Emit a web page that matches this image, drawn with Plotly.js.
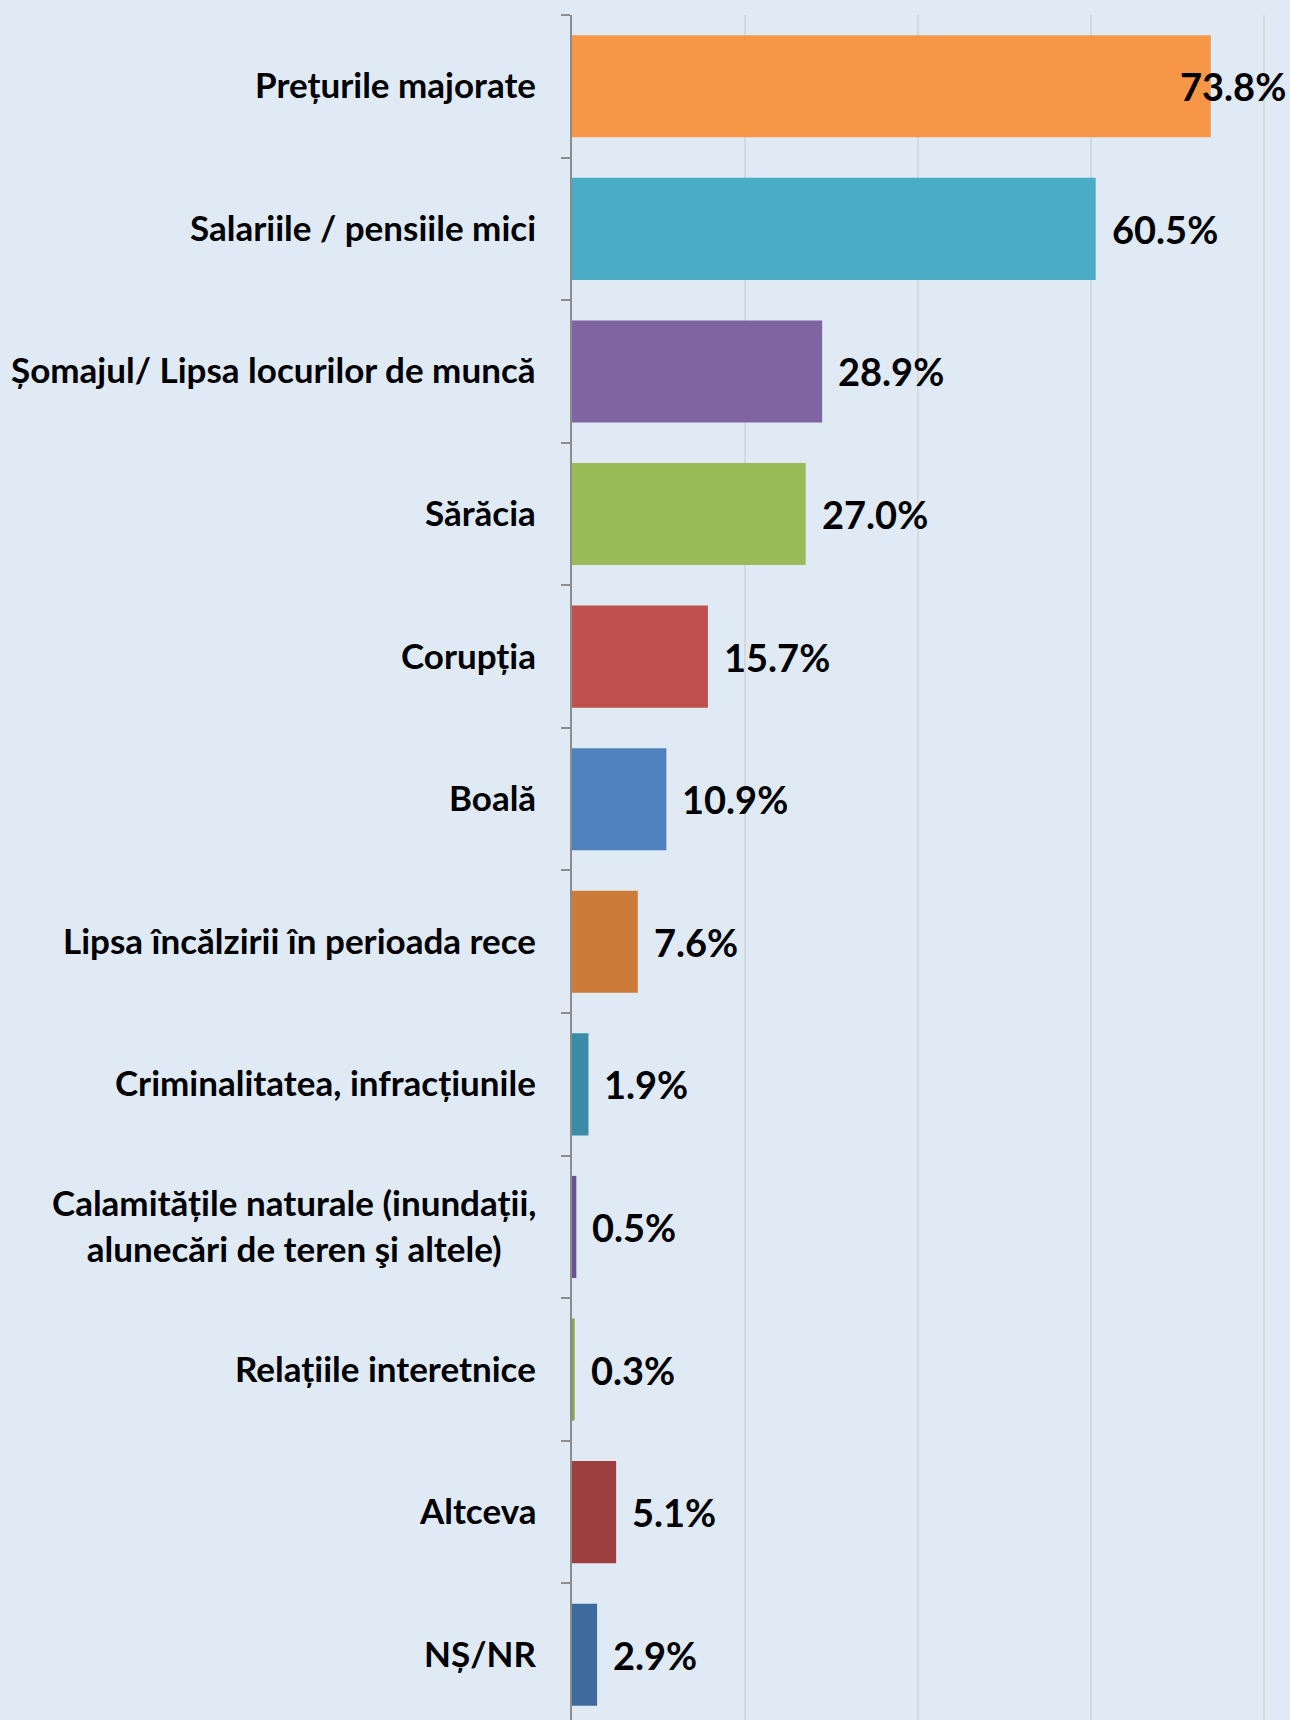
<!DOCTYPE html>
<html>
<head>
<meta charset="utf-8">
<script src="https://cdn.plot.ly/plotly-3.0.1.min.js"></script>
<style>
  html, body { margin: 0; padding: 0; background: #DFEAF5; }
  #chart { width: 1290px; height: 1720px; }
</style>
</head>
<body>
<div id="chart"></div>
<script>
const categories = [
  "Prețurile majorate",
  "Salariile / pensiile mici",
  "Șomajul/ Lipsa locurilor de muncă",
  "Sărăcia",
  "Corupția",
  "Boală",
  "Lipsa încălzirii în perioada rece",
  "Criminalitatea, infracțiunile",
  "Calamitățile naturale (inundații,<br>alunecări de teren şi altele)",
  "Relațiile interetnice",
  "Altceva",
  "NȘ/NR"
];
const values = [73.8, 60.5, 28.9, 27.0, 15.7, 10.9, 7.6, 1.9, 0.5, 0.3, 5.1, 2.9];
const valueLabels = ["73.8%", "60.5%", "28.9%", "27.0%", "15.7%", "10.9%", "7.6%", "1.9%", "0.5%", "0.3%", "5.1%", "2.9%"];
const barColors = [
  "#F79646", "#4BACC6", "#8064A2", "#9BBB59", "#C0504D", "#4F81BD",
  "#CD7B39", "#3B8CA6", "#6A5190", "#86A44A", "#9C3F3E", "#3F6A9E"
];

const FONT = "Lato, 'Open Sans', sans-serif";
const xMax = 82.95;
const idx = categories.map((_, i) => i);

const trace = {
  type: "bar",
  orientation: "h",
  x: values,
  y: idx,
  marker: { color: barColors, line: { width: 0 } },
  hoverinfo: "skip"
};

const annotations = [];
// category labels (centered multi-line like the original)
categories.forEach((c, i) => {
  annotations.push({
    xref: "paper", yref: "y",
    x: 0, y: i,
    xanchor: "right", yanchor: "middle",
    xshift: -34,
    yshift: 2,
    text: c,
    showarrow: false,
    align: "center",
    font: { family: FONT, size: 35, color: "#000000", weight: 700 }
  });
});
// value labels
values.forEach((v, i) => {
  const overflow = v > 70;
  annotations.push({
    xref: "x", yref: "y",
    x: overflow ? xMax : v,
    y: i,
    xanchor: overflow ? "right" : "left",
    yanchor: "middle",
    xshift: overflow ? -2 : 14,
    yshift: 0,
    text: valueLabels[i],
    showarrow: false,
    font: { family: FONT, size: 38, color: "#000000", weight: 700 }
  });
});

const layout = {
  width: 1290,
  height: 1720,
  paper_bgcolor: "#DFEAF5",
  plot_bgcolor: "#DFEAF5",
  margin: { l: 572, r: 0, t: 15, b: 0, pad: 0 },
  showlegend: false,
  bargap: 0.284,
  xaxis: {
    range: [0, xMax],
    dtick: 20,
    showgrid: true,
    gridcolor: "#D6D9DC",
    gridwidth: 2,
    zeroline: false,
    showticklabels: false,
    showline: false,
    ticks: ""
  },
  yaxis: {
    type: "linear",
    range: [11.458, -0.5],
    tickmode: "array",
    tickvals: idx.map(i => i - 0.5).concat([11.5]),
    ticktext: idx.map(() => "").concat([""]),
    showgrid: false,
    zeroline: false,
    showline: true,
    linecolor: "#8C8C8C",
    linewidth: 2,
    ticks: "outside",
    ticklen: 9,
    tickwidth: 2,
    tickcolor: "#8C8C8C",
    showticklabels: false
  },
  annotations: annotations
};

Plotly.newPlot("chart", [trace], layout, { staticPlot: true, displayModeBar: false });
</script>
</body>
</html>
